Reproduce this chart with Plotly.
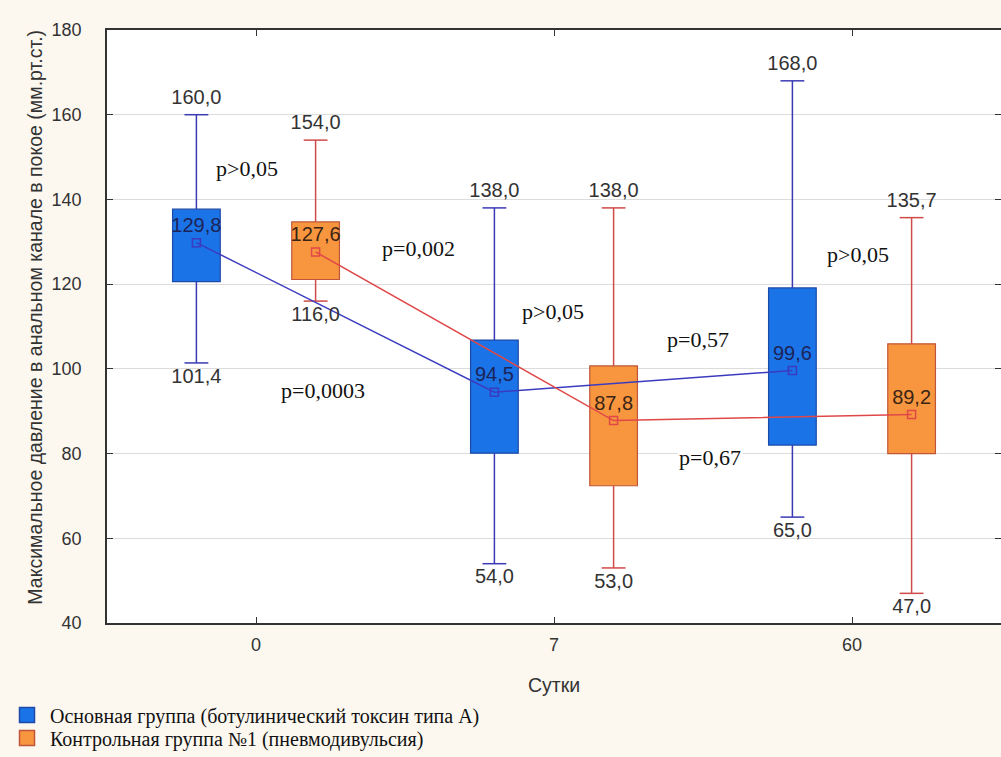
import numpy as np
import plotly.graph_objects as go

# Days of observation (category labels on the x axis)
days = ["0", "7", "60"]

# Main group (botulinum toxin type A)
main_mean = [129.8, 94.5, 99.6]
main_box_hi = [137.7, 106.8, 119.1]
main_box_lo = [120.6, 80.1, 82.0]
main_max = [160.0, 138.0, 168.0]
main_min = [101.4, 54.0, 65.0]

# Control group No.1 (pneumodivulsion)
ctrl_mean = [127.6, 87.8, 89.2]
ctrl_box_hi = [134.7, 100.7, 105.9]
ctrl_box_lo = [121.1, 72.4, 80.0]
ctrl_max = [154.0, 138.0, 135.7]
ctrl_min = [116.0, 53.0, 47.0]

# p-value notes: (text, x in category units, y in mm Hg)
p_notes = [
    ("p>0,05", -0.03, 147.4),
    ("p=0,002", 0.545, 128.3),
    ("p=0,0003", 0.225, 94.8),
    ("p>0,05", 0.997, 113.6),
    ("p=0,57", 1.483, 107.0),
    ("p=0,67", 1.523, 79.0),
    ("p>0,05", 2.02, 126.9),
]

SANS = "Liberation Sans, Arial, sans-serif"
SERIF = "Liberation Serif, Times New Roman, serif"
LABEL_COLOR = "#333333"


def fmt(v):
    return f"{v:.1f}".replace(".", ",")


idx = np.arange(len(days))
group_shift = 0.2
box_width = 0.16
cap_half = 0.04

groups = [
    dict(name="Основная группа (ботулинический токсин типа А)",
         x=idx - group_shift, mean=main_mean, hi=main_box_hi, lo=main_box_lo,
         vmax=main_max, vmin=main_min, legend="legend",
         fill="#1b73e8", edge="#1d4aa8", whisk="#3a3ab4", line="#3b3bc0",
         mean_text="#1c2458"),
    dict(name="Контрольная группа №1 (пневмодивульсия)",
         x=idx + group_shift, mean=ctrl_mean, hi=ctrl_box_hi, lo=ctrl_box_lo,
         vmax=ctrl_max, vmin=ctrl_min, legend="legend2",
         fill="#f7963f", edge="#c0553a", whisk="#d04a48", line="#e04848",
         mean_text="#3a2414"),
]

fig = go.Figure()

for g in groups:
    hi = np.array(g["hi"])
    lo = np.array(g["lo"])
    fig.add_trace(go.Bar(
        x=g["x"], base=lo, y=hi - lo, width=box_width,
        marker=dict(color=g["fill"], line=dict(color=g["edge"], width=1.2)),
        name=g["name"], showlegend=False, hoverinfo="skip",
    ))

for g in groups:
    # whiskers: box edge -> extreme, with caps
    wx, wy = [], []
    for xc, h, l, mx, mn in zip(g["x"], g["hi"], g["lo"], g["vmax"], g["vmin"]):
        wx += [xc, xc, None, xc, xc, None,
               xc - cap_half, xc + cap_half, None, xc - cap_half, xc + cap_half, None]
        wy += [h, mx, None, l, mn, None, mx, mx, None, mn, mn, None]
    fig.add_trace(go.Scatter(
        x=wx, y=wy, mode="lines", line=dict(color=g["whisk"], width=1.5),
        showlegend=False, hoverinfo="skip",
    ))

for g in groups:
    fig.add_trace(go.Scatter(
        x=g["x"], y=g["mean"], mode="lines+markers+text",
        line=dict(color=g["line"], width=1.5),
        marker=dict(symbol="square-open", size=8, color=g["line"], line=dict(width=1.5)),
        text=[fmt(v) for v in g["mean"]], textposition="top center",
        textfont=dict(family=SANS, size=20, color=g["mean_text"]),
        showlegend=False, hoverinfo="skip",
    ))
    fig.add_trace(go.Scatter(
        x=g["x"], y=g["vmax"], mode="markers+text",
        marker=dict(size=8, opacity=0),
        text=[fmt(v) for v in g["vmax"]], textposition="top center",
        textfont=dict(family=SANS, size=20, color=LABEL_COLOR),
        showlegend=False, hoverinfo="skip",
    ))
    fig.add_trace(go.Scatter(
        x=g["x"], y=g["vmin"], mode="markers+text",
        marker=dict(size=6, opacity=0),
        text=[fmt(v) for v in g["vmin"]], textposition="bottom center",
        textfont=dict(family=SANS, size=20, color=LABEL_COLOR),
        showlegend=False, hoverinfo="skip",
    ))

# legend entries (one per legend box so the two rows sit close together)
for g in groups:
    fig.add_trace(go.Scatter(
        x=[None], y=[None], mode="markers", name=g["name"], legend=g["legend"],
        marker=dict(symbol="square", size=15, color=g["fill"],
                    line=dict(color=g["edge"], width=1.5)),
        showlegend=True, hoverinfo="skip",
    ))

for text, px, py in p_notes:
    fig.add_annotation(
        x=px, y=py, text=text, showarrow=False,
        font=dict(family=SERIF, size=22, color="#111111"),
        bgcolor="white",
    )

fig.add_annotation(
    x=-0.0805, y=0.515, xref="paper", yref="paper",
    text="Максимальное давление в анальном канале в покое (мм.рт.ст.)",
    textangle=-90, showarrow=False, xanchor="center", yanchor="middle",
    font=dict(family=SANS, size=19.5, color=LABEL_COLOR),
)

legend_style = dict(
    xref="container", yref="container", xanchor="left", yanchor="middle",
    font=dict(family=SERIF, size=20, color="#111111"),
    bgcolor="rgba(0,0,0,0)", itemwidth=36,
)

fig.update_layout(
    width=1001, height=757,
    margin=dict(l=107, r=0, t=30, b=134, autoexpand=False),
    paper_bgcolor="#fcf8f0",
    plot_bgcolor="white",
    barmode="overlay",
    legend=dict(x=0.004, y=1 - 715 / 757, **legend_style),
    legend2=dict(x=0.004, y=1 - 738 / 757, **legend_style),
)

fig.update_xaxes(
    range=[-0.5, 2.5], tickmode="array", tickvals=idx, ticktext=days,
    showgrid=False, zeroline=False,
    showline=True, linecolor="#333333", linewidth=1.5, mirror="ticks",
    ticks="inside", ticklen=6, tickcolor="#333333",
    tickfont=dict(family=SANS, size=18, color=LABEL_COLOR),
    ticklabelstandoff=5,
    title=dict(text="Сутки", font=dict(family=SANS, size=19.5, color=LABEL_COLOR), standoff=24),
)
fig.update_yaxes(
    range=[40, 180], dtick=20,
    showgrid=True, gridcolor="#dcdcdc", gridwidth=1, zeroline=False,
    showline=True, linecolor="#333333", linewidth=1.5, mirror="ticks",
    ticks="inside", ticklen=6, tickcolor="#333333",
    tickfont=dict(family=SANS, size=18, color=LABEL_COLOR),
    ticklabelstandoff=20,
)

fig.write_html("out.html")
